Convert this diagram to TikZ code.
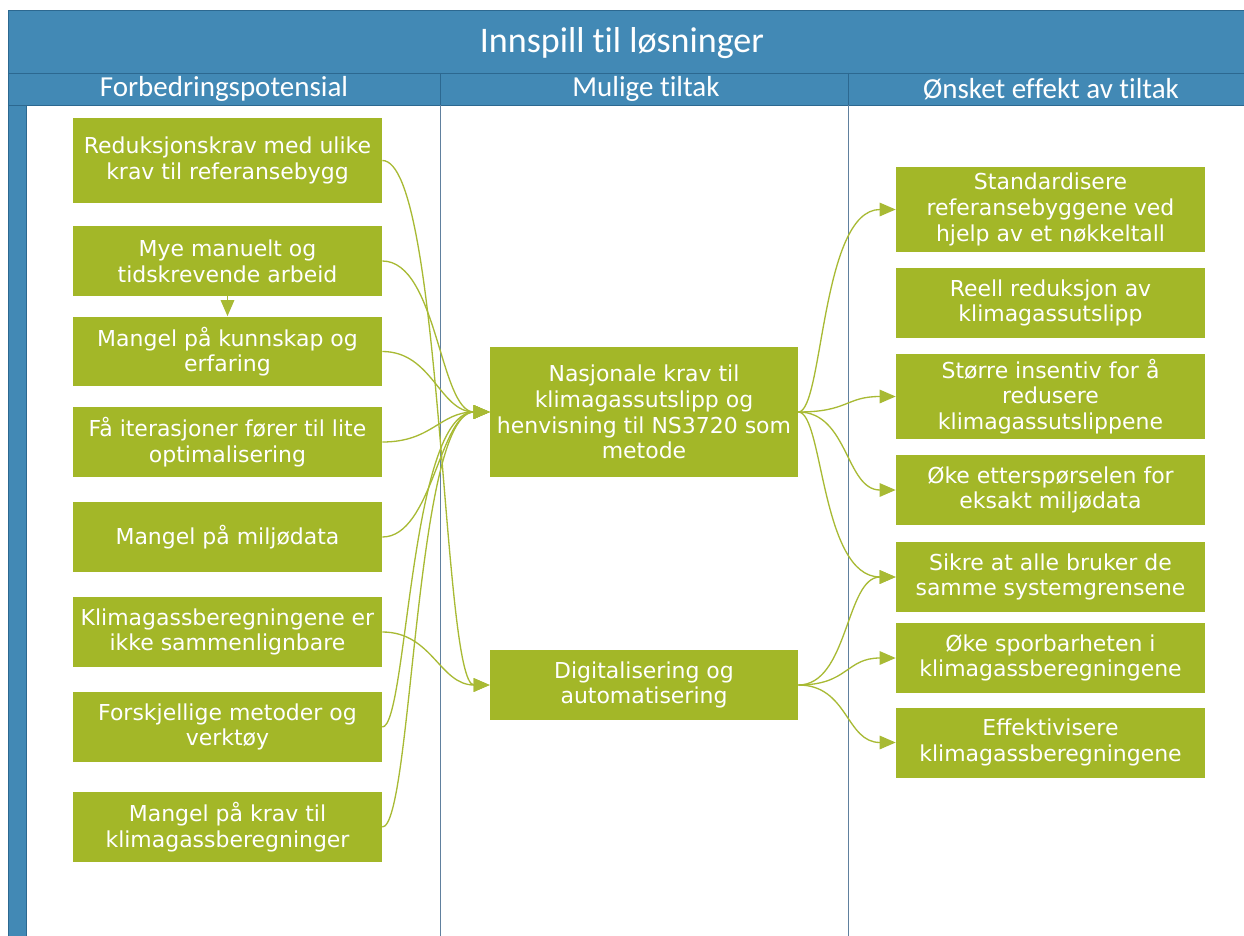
\documentclass[tikz,border=0pt]{standalone}
\usepackage{fontspec}
\setmainfont{DejaVu Sans}
\newfontfamily\headfont[Ligatures=CommonOff]{Carlito}
\usepackage{tikz}
\usetikzlibrary{arrows.meta}

\definecolor{hdrblue}{HTML}{4289B5}
\definecolor{hdrline}{HTML}{2C6890}
\definecolor{divline}{HTML}{60809E}
\definecolor{boxgreen}{HTML}{A3B728}
\definecolor{linkgreen}{HTML}{A8BA34}

\begin{document}
\begin{tikzpicture}[
    x=0.02cm, y=-0.02cm,
    box/.style={rectangle, fill=boxgreen, text=white, align=center, inner sep=1pt, minimum width=6.18cm, minimum height=1.4cm, font=\fontsize{12.5}{14.6}\selectfont},
    tall/.style={box, minimum height=1.72cm},
    head/.style={text=white, font=\headfont\fontsize{16.5}{18}\selectfont},
    link/.style={-{Triangle[length=3.2mm, width=2.7mm]}, linkgreen, line width=0.75pt},
    lnk/.style 2 args={out=0, in=180, out distance=#1, in distance=#2}
]
    \useasboundingbox (0,0) rectangle (1244,936);

    % Frame
    \fill[white] (0,0) rectangle (1244,936);
    \draw[hdrline, fill=hdrblue] (8,10) rectangle (1260,105);
    \draw[hdrline] (8,73) -- (1260,73);
    \draw[hdrline, fill=hdrblue] (8,105) rectangle (26,950);
    \draw[hdrline] (440,73) -- (440,105);
    \draw[hdrline] (848,73) -- (848,105);
    \draw[divline] (440,105) -- (440,950);
    \draw[divline] (848,105) -- (848,950);

    \node[text=white, font=\headfont\fontsize{20.5}{22}\selectfont] (ttl) at (622,43) {Innspill til løsninger};
    \node[head] (h1) at (224,89) {Forbedringspotensial};
    \node[head] (h2) at (646,89) {Mulige tiltak};
    \node[head] (h3) at (1051,89) {Ønsket effekt av tiltak};

    % Forbedringspotensial
    \node[tall] (p1) at (227.5,160.5) {Reduksjonskrav med ulike\\krav til referansebygg};
    \node[box] (p2) at (227.5,261) {Mye manuelt og\\tidskrevende arbeid};
    \node[box] (p3) at (227.5,351.5) {Mangel på kunnskap og\\erfaring};
    \node[box] (p4) at (227.5,442) {Få iterasjoner fører til lite\\optimalisering};
    \node[box] (p5) at (227.5,537) {Mangel på miljødata};
    \node[box] (p6) at (227.5,632) {Klimagassberegningene er\\ikke sammenlignbare};
    \node[box] (p7) at (227.5,727) {Forskjellige metoder og\\verktøy};
    \node[box] (p8) at (227.5,827) {Mangel på krav til\\klimagassberegninger};

    % Mulige tiltak
    \node[box, minimum width=6.16cm, minimum height=2.6cm] (nat) at (644,412) {Nasjonale krav til\\klimagassutslipp og\\henvisning til NS3720 som\\metode};
    \node[box, minimum width=6.16cm] (dig) at (644,685) {Digitalisering og\\automatisering};

    % Ønsket effekt
    \node[tall] (e1) at (1050.5,209.5) {Standardisere\\referansebyggene ved\\hjelp av et nøkkeltall};
    \node[box] (e2) at (1050.5,303) {Reell reduksjon av\\klimagassutslipp};
    \node[tall] (e3) at (1050.5,396.5) {Større insentiv for å\\redusere\\klimagassutslippene};
    \node[box] (e4) at (1050.5,490) {Øke etterspørselen for\\eksakt miljødata};
    \node[box] (e5) at (1050.5,577) {Sikre at alle bruker de\\samme systemgrensene};
    \node[box] (e6) at (1050.5,658) {Øke sporbarheten i\\klimagassberegningene};
    \node[box] (e7) at (1050.5,742.5) {Effektivisere\\klimagassberegningene};

    % Connections
    \draw[link] (p2.south) -- (p3.north);
    \draw[link] (p1.east) to[lnk={1.2cm}{0.95cm}] (dig.west);
    \draw[link] (p2.east) to[lnk={1.1cm}{1cm}] (nat.west);
    \draw[link] (p3.east) to[lnk={1cm}{1cm}] (nat.west);
    \draw[link] (p4.east) to[lnk={1cm}{1cm}] (nat.west);
    \draw[link] (p5.east) to[lnk={1cm}{1cm}] (nat.west);
    \draw[link] (p6.east) to[lnk={1cm}{1cm}] (dig.west);
    \draw[link] (p7.east) to[lnk={0.5cm}{1.6cm}] (nat.west);
    \draw[link] (p8.east) to[lnk={0.6cm}{1.5cm}] (nat.west);

    \draw[link] (nat.east) to[lnk={0.5cm}{1.5cm}] (e1.west);
    \draw[link] (nat.east) to[lnk={1cm}{1cm}] (e3.west);
    \draw[link] (nat.east) to[lnk={1cm}{1cm}] (e4.west);
    \draw[link] (nat.east) to[lnk={0.5cm}{1.5cm}] (e5.west);
    \draw[link] (dig.east) to[lnk={1cm}{1cm}] (e5.west);
    \draw[link] (dig.east) to[lnk={1cm}{1cm}] (e6.west);
    \draw[link] (dig.east) to[lnk={1cm}{1cm}] (e7.west);
\end{tikzpicture}
\end{document}
